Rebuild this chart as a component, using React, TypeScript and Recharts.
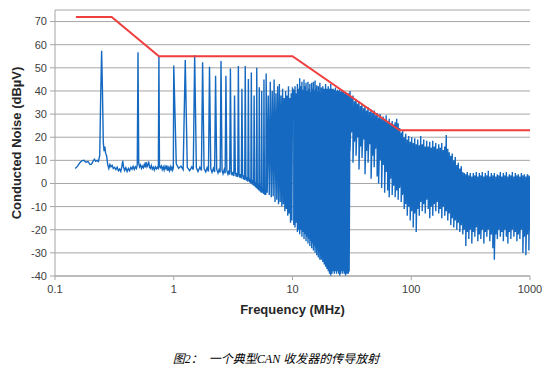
import React from 'react';
import { LineChart, Line, XAxis, YAxis, CartesianGrid, Label } from 'recharts';

// Limit line (red)
const limitFreqMHz = [0.15, 0.3, 0.75, 10, 80, 1000];
const limitDb = [72, 72, 55, 55, 23, 23];

// Axis ticks
const xTicks = [0.1, 1, 10, 100, 1000];
const yTicks = [-40, -30, -20, -10, 0, 10, 20, 30, 40, 50, 60, 70];

// Measured noise 0.15 - 1 MHz [MHz, dBuV]
const sweepLow: [number, number][] = [
  [0.148, 6.5], [0.155, 7.5], [0.162, 9], [0.168, 9.8], [0.175, 10], [0.182, 9.2], [0.19, 9.5],
  [0.197, 8.2], [0.203, 8.4], [0.21, 9.8], [0.215, 10.5], [0.22, 9.6], [0.226, 10], [0.232, 9.5],
  [0.238, 12], [0.243, 40], [0.247, 57.4], [0.251, 40], [0.255, 18], [0.259, 14], [0.263, 16],
  [0.267, 13], [0.272, 12], [0.278, 8], [0.284, 6.5], [0.29, 8.2], [0.296, 7.2], [0.303, 7.8],
  [0.31, 6.5], [0.318, 7], [0.326, 6], [0.334, 7], [0.342, 5.5], [0.35, 6.2], [0.358, 5.2],
  [0.366, 7.5], [0.372, 9.8], [0.378, 7], [0.386, 5.6], [0.395, 6.8], [0.405, 5.2], [0.415, 6.5],
  [0.425, 5.5], [0.435, 7], [0.445, 6.2], [0.455, 7.4], [0.465, 6], [0.475, 7.2], [0.485, 6.5],
  [0.493, 8], [0.5, 56.7], [0.507, 9], [0.515, 7.2], [0.525, 8], [0.535, 6.5], [0.545, 7.5],
  [0.555, 6.8], [0.565, 8.2], [0.575, 7], [0.585, 9.2], [0.595, 7.2], [0.605, 8], [0.615, 9.5],
  [0.625, 7], [0.635, 6.5], [0.647, 7.8], [0.66, 6.2], [0.673, 7], [0.686, 5.8], [0.7, 7.2],
  [0.715, 6.3], [0.728, 7], [0.742, 6.5], [0.75, 55], [0.758, 7.5], [0.77, 6.8], [0.785, 7.6],
  [0.8, 6], [0.815, 7.2], [0.83, 5.8], [0.845, 7.4], [0.86, 6.4], [0.875, 7.8], [0.89, 5.5],
  [0.905, 6.8], [0.92, 5.6], [0.935, 7.2], [0.95, 6], [0.965, 7], [0.98, 5.8], [0.992, 6.8],
];

// Harmonics region 1 - 6 MHz
const sweepHarm: [number, number][] = [
  [1.0, 51], [1.05, 8.5], [1.1, 6.5], [1.15, 7.5], [1.2, 6], [1.25, 53.4], [1.3, 7], [1.36, 5.5],
  [1.42, 7.2], [1.46, 6], [1.5, 55.4], [1.55, 6.8], [1.6, 5.2], [1.66, 7], [1.71, 5.6], [1.75, 52.4],
  [1.8, 6.5], [1.86, 5], [1.91, 6.8], [1.96, 5.2], [2.0, 50.5], [2.05, 6.4], [2.1, 4.8], [2.16, 6.6],
  [2.21, 5], [2.25, 46.6], [2.3, 6.2], [2.36, 4.5], [2.41, 6], [2.46, 4.8], [2.5, 53], [2.55, 5.8],
  [2.6, 4.2], [2.66, 6], [2.71, 4.4], [2.75, 46.6], [2.8, 5.5], [2.86, 4], [2.91, 5.6], [2.96, 3.8],
  [3.0, 49.7], [3.05, 5.2], [3.1, 3.5], [3.16, 5], [3.21, 3.2], [3.25, 38], [3.3, 4.8], [3.36, 3],
  [3.41, 4.6], [3.46, 2.8], [3.5, 50.8], [3.55, 4.2], [3.6, 2.5], [3.66, 4], [3.71, 2.2], [3.75, 40.9],
  [3.8, 3.8], [3.86, 1.8], [3.91, 3.5], [3.96, 1.5], [4.0, 50.8], [4.05, 3.2], [4.1, 1.2], [4.16, 2.8],
  [4.21, 0.8], [4.25, 45.2], [4.3, 2.5], [4.36, 0.5], [4.41, 2], [4.46, 0], [4.5, 48], [4.55, 1.8],
  [4.6, -0.5], [4.66, 1.5], [4.71, -1], [4.75, 38], [4.8, 1], [4.86, -1.5], [4.91, 0.5], [4.96, -2],
  [5.0, 50], [5.05, 0.2], [5.1, -2.5], [5.16, 0], [5.21, -3], [5.25, 41.6], [5.3, -0.5], [5.36, -3.5],
  [5.41, -1], [5.46, -4], [5.5, 40], [5.55, -1.5], [5.6, -4], [5.66, -2], [5.71, -4.5], [5.75, 45],
  [5.8, -2], [5.86, -5], [5.91, -2.5], [5.96, -5], [6.0, 47.5],
];

// Harmonic region 6 - 10 MHz (alternating floor / peak)
const sweepMid: [number, number][] = [
  [6.125, -4], [6.25, 38], [6.375, -5], [6.5, 44], [6.625, -6], [6.75, 40], [6.875, -5.5], [7.0, 45],
  [7.125, -8], [7.25, 39], [7.375, -7], [7.5, 42], [7.625, -9], [7.75, 43], [7.875, -8], [8.0, 38],
  [8.125, -10], [8.25, 41], [8.375, -9], [8.5, 37], [8.625, -12], [8.75, 40], [8.875, -11], [9.0, 38],
  [9.125, -14], [9.25, 42], [9.375, -13], [9.5, 37], [9.625, -17], [9.75, 39], [9.875, -16], [10.0, 41],
];

// Dense harmonic region 10 - 30 MHz: [MHz, peak dBuV, floor dBuV]
const sweepDense: [number, number, number][] = [
  [10.25, 40, -18], [10.5, 42, -19], [10.75, 39, -17], [11, 43, -21], [11.25, 41, -20], [11.5, 45.5, -22],
  [11.75, 42, -20], [12, 44, -23], [12.25, 40.5, -21], [12.5, 45, -24], [12.75, 42, -22], [13, 43.5, -25],
  [13.25, 40, -23], [13.5, 44, -26], [13.75, 41, -24], [14, 43, -27], [14.25, 39.5, -25], [14.5, 43.5, -28],
  [14.75, 41, -26], [15, 44, -29], [15.25, 40, -27], [15.5, 44.5, -30], [15.75, 41, -28], [16, 42.5, -31],
  [16.25, 39.5, -29], [16.5, 42, -32], [16.75, 40, -30], [17, 43.5, -33], [17.25, 39, -31], [17.5, 41.5, -33],
  [17.75, 40, -32], [18, 42, -34], [18.25, 39, -32], [18.5, 41, -35], [18.75, 40, -33], [19, 43, -36],
  [19.25, 39, -34], [19.5, 41, -37], [19.75, 39.5, -35], [20, 42, -38], [20.25, 39, -36], [20.5, 41, -39],
  [20.75, 40, -37], [21, 43, -40], [21.25, 39, -38], [21.5, 41, -39], [21.75, 39.5, -36], [22, 41, -38],
  [22.25, 38.5, -35], [22.5, 40.5, -39], [22.75, 39, -36], [23, 41.5, -38], [23.25, 38, -37], [23.5, 40, -39],
  [23.75, 38.5, -36], [24, 40.5, -38], [24.25, 38, -35], [24.5, 40, -39], [24.75, 38.5, -36], [25, 40.5, -40],
  [25.25, 38, -37], [25.5, 39.5, -39], [25.75, 38, -36], [26, 40, -38], [26.25, 37.5, -35], [26.5, 39.5, -39],
  [26.75, 38, -36], [27, 39.5, -38], [27.25, 37.5, -36], [27.5, 39, -39], [27.75, 37.5, -37], [28, 39, -40],
  [28.25, 37, -37], [28.5, 38.5, -39], [28.75, 37.5, -38], [29, 39, -39], [29.25, 37, -37], [29.5, 38.5, -39],
  [29.75, 37.5, -38], [30, 39, -38],
];

// Broadband noise 30 - 1000 MHz: [MHz, top dBuV, bottom dBuV]
const sweepHigh: [number, number, number][] = [
  [30.5, 40, 14], [31.4, 37.5, 22], [32.3, 38, 9], [33.3, 35.5, 18], [34.3, 36.5, 12], [35.3, 34.5, 20],
  [36.3, 35.5, 6], [37.4, 33.5, 16], [38.5, 34.5, 11], [39.7, 32.5, 19], [40.8, 33.5, 4], [42.0, 31.5, 14],
  [43.3, 33, 9], [44.6, 31, 17], [45.9, 32, 2], [47.3, 30.5, 12], [48.7, 31.5, 7], [50.1, 29.5, 15],
  [51.6, 30.5, 3], [53.1, 28.5, 0], [54.7, 30, 10], [56.3, 28, -2], [58.0, 29, 8], [59.7, 27.5, -4],
  [61.5, 29.5, 5], [63.3, 26.5, -3], [65.2, 28, -6], [67.1, 26, 2], [69.1, 27, -5], [71.1, 25.5, -1],
  [73.2, 26.5, -6], [75.4, 28, -3], [77.6, 26, -7], [79.9, 24, -2], [82.3, 22, -8], [84.7, 23, -5],
  [87.2, 20, -11], [89.8, 21.5, -9], [92.5, 19, -14], [95.2, 20.5, -10], [98.0, 18, -16], [100.9, 20, -12],
  [103.9, 17.5, -19], [107, 19.5, -13], [110.1, 17, -21], [113.4, 19, -11], [116.7, 16.5, -14], [120.2, 20.5, -8],
  [123.7, 17, -12], [127.4, 19, -9], [131.1, 16, -13], [135, 18.5, -7], [139, 16, -11], [143.1, 18, -15],
  [147.3, 15.5, -10], [151.7, 18.5, -14], [156.2, 16, -9], [160.8, 17.5, -12], [165.5, 15, -8], [170.4, 17, -13],
  [175.5, 15.5, -11], [180.7, 17.5, -15], [186, 14.5, -10], [191.5, 16, -14], [197.2, 21, -12], [203, 15, -16],
  [209, 13.5, -13], [215.2, 12, -18], [221.5, 13, -15], [228.1, 10, -19], [234.8, 11.5, -16], [241.8, 8, -20],
  [248.9, 9, -17], [256.3, 6.5, -21], [263.8, 7.5, -18], [271.6, 5, -22], [279.7, 4.5, -20], [287.9, 4, -27],
  [296.4, 5, -21], [305.2, 3.5, -24], [314.2, 4.5, -20], [323.5, 3, -26], [333.1, 4.5, -21], [342.9, 3.5, -23],
  [353, 5, -19], [363.5, 3, -25], [374.2, 4.5, -22], [385.3, 3.5, -24], [396.7, 5, -20], [408.4, 3, -26],
  [420.4, 4.5, -21], [432.9, 3.5, -23], [445.7, 5.5, -20], [458.8, 3, -25], [472.4, 4.5, -22], [486.4, 3.5, -28],
  [500.7, 4.5, -33], [515.5, 3, -22], [530.8, 4, -24], [546.5, 3.5, -20], [562.6, 5, -23], [579.2, 3, -21],
  [596.3, 4.5, -25], [614, 3.5, -20], [632.1, 5, -23], [650.8, 3, -26], [670, 4, -21], [689.8, 3.5, -24],
  [710.2, 5, -20], [731.2, 3, -23], [752.8, 4.5, -21], [775, 3.5, -25], [797.9, 4, -22], [821.5, 3, -24],
  [845.8, 4.5, -20], [870.8, 3.5, -30], [896.5, 4, -23], [923, 3, -31], [950.3, 4, -22], [978.4, 3.5, -29],
  [1000, 3, -20],
];

const limitData = limitFreqMHz.map((f, i) => ({ f, v: limitDb[i] }));
const noiseData = [
  ...sweepLow.map(([f, v]) => ({ f, v })),
  ...sweepHarm.map(([f, v]) => ({ f, v })),
  ...sweepMid.map(([f, v]) => ({ f, v })),
  ...sweepDense.flatMap(([f, top, bottom]) => [{ f, v: top }, { f, v: bottom }]),
  ...sweepHigh.flatMap(([f, top, bottom]) => [{ f, v: top }, { f, v: bottom }]),
];

const FONT = "'Liberation Sans', Arial, sans-serif";

const YLabel = (props: any) => {
  const vb = props.viewBox || { x: 0, y: 10, width: 55, height: 266 };
  const cx = 16;
  const cy = vb.y + vb.height / 2;
  return (
    <text
      x={cx}
      y={cy}
      transform={`rotate(-90, ${cx}, ${cy})`}
      textAnchor="middle"
      dominantBaseline="central"
      fontFamily={FONT}
      fontSize={13}
      fontWeight="bold"
      fill="#262626"
    >
      Conducted Noise (dBµV)
    </text>
  );
};

export default function App() {
  return (
    <div style={{ position: 'absolute', left: 0, top: 0, width: 552, height: 374, background: '#fff', fontFamily: FONT }}>
      <LineChart width={552} height={330} margin={{ top: 10, right: 22, bottom: 0, left: 0 }}>
        <CartesianGrid vertical={false} stroke="#a6a6a6" strokeWidth={1} />
        <XAxis
          dataKey="f"
          type="number"
          scale="log"
          domain={[0.1, 1000]}
          ticks={xTicks}
          allowDataOverflow
          height={54}
          stroke="#a6a6a6"
          tickSize={4}
          tickMargin={5}
          tick={{ fontSize: 11, fill: '#404040', fontFamily: FONT }}
          tickFormatter={(v: number) => String(v)}
        >
          <Label
            value="Frequency (MHz)"
            position="insideBottom"
            offset={16}
            style={{ fontSize: 13, fontWeight: 'bold', fill: '#262626', fontFamily: FONT }}
          />
        </XAxis>
        <YAxis
          type="number"
          domain={[-40, 75]}
          ticks={yTicks}
          allowDataOverflow
          width={55}
          stroke="#a6a6a6"
          tickSize={5}
          tickMargin={3}
          tick={{ fontSize: 11, fill: '#404040', fontFamily: FONT }}
        >
          <Label content={<YLabel />} />
        </YAxis>
        <Line
          data={noiseData}
          dataKey="v"
          type="linear"
          stroke="#1569c0"
          strokeWidth={1.4}
          dot={false}
          isAnimationActive={false}
        />
        <Line
          data={limitData}
          dataKey="v"
          type="linear"
          stroke="#ef3e3e"
          strokeWidth={2}
          dot={false}
          isAnimationActive={false}
        />
      </LineChart>
      <div
        style={{
          position: 'absolute',
          left: 0,
          top: 349,
          width: 552,
          textAlign: 'center',
          fontFamily: "'Liberation Serif', 'Noto Sans CJK SC', serif",
          fontStyle: 'italic',
          fontSize: 12,
          color: '#000',
          whiteSpace: 'pre',
        }}
      >
        图2：  一个典型CAN 收发器的传导放射
      </div>
    </div>
  );
}
